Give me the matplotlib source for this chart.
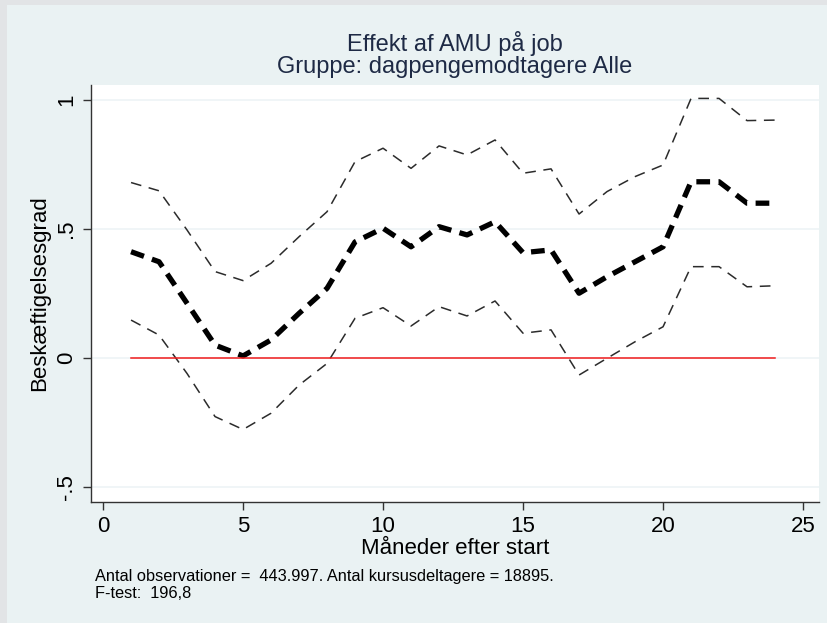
import matplotlib.pyplot as plt
from matplotlib.patches import Rectangle

# Stata-like look
plt.rcParams['font.family'] = ['Liberation Sans', 'DejaVu Sans']

COLOR_BORDER = "#e2e4e6"
COLOR_PANEL = "#eaf2f3"
COLOR_GRID = "#eef4f6"
COLOR_TITLE = "#1e2a45"

months = list(range(1, 25))
effect = [0.412, 0.373, 0.212, 0.050, 0.008, 0.070, 0.173, 0.270, 0.450, 0.503,
          0.431, 0.509, 0.477, 0.528, 0.408, 0.419, 0.251, 0.315, 0.373, 0.431,
          0.683, 0.683, 0.600, 0.600]
upper = [0.680, 0.648, 0.496, 0.335, 0.300, 0.367, 0.470, 0.567, 0.761, 0.813,
         0.735, 0.822, 0.787, 0.845, 0.716, 0.733, 0.558, 0.645, 0.703, 0.748,
         1.006, 1.006, 0.920, 0.922]
lower = [0.147, 0.089, -0.060, -0.227, -0.277, -0.214, -0.105, -0.021, 0.154, 0.195,
         0.124, 0.199, 0.163, 0.221, 0.096, 0.109, -0.066, -0.001, 0.063, 0.121,
         0.354, 0.354, 0.276, 0.280]

y_ticks = [-0.5, 0, 0.5, 1]
y_ticklabels = ['-.5', '0', '.5', '1']
x_ticks = [0, 5, 10, 15, 20, 25]

fig = plt.figure(figsize=(8.28, 6.23), dpi=100)
fig.patch.set_facecolor(COLOR_BORDER)
fig.patches.append(Rectangle((7 / 828, 0), 1, 1 - 5 / 623, transform=fig.transFigure,
                             facecolor=COLOR_PANEL, edgecolor='none', zorder=-10))

ax = fig.add_axes([91 / 828, 1 - 502 / 623, (819 - 91) / 828, (502 - 85) / 623])
ax.set_facecolor('white')

for yv in y_ticks:
    ax.axhline(yv, color=COLOR_GRID, linewidth=1.2, zorder=0)

ax.plot(months, upper, color='#2b2b2b', linewidth=1.1, dashes=(7, 5))
ax.plot(months, lower, color='#2b2b2b', linewidth=1.1, dashes=(7, 5))
ax.plot(months, effect, color='black', linewidth=3.8, dashes=(2.6, 1.6))
ax.plot([months[0], months[-1]], [0, 0], color='#f01c1c', linewidth=1.1)

ax.set_xlim(-0.43, 25.57)
ax.set_ylim(-0.558, 1.058)
ax.set_xticks(x_ticks)
ax.set_yticks(y_ticks, y_ticklabels)
for lbl in ax.get_yticklabels():
    lbl.set_rotation(90)
    lbl.set_va('center')

for side in ['top', 'right']:
    ax.spines[side].set_visible(False)
for side in ['left', 'bottom']:
    ax.spines[side].set_color('#333333')
    ax.spines[side].set_linewidth(1.0)
ax.tick_params(direction='out', length=6, width=1, color='#333333',
               labelsize=16, labelcolor='black', pad=4)

ax.set_ylabel('Beskæftigelsesgrad', fontsize=16, labelpad=4)

fig.text(455 / 828, 1 - 549 / 623, 'Måneder efter start', ha='center', va='center',
         fontsize=16, color='black')

fig.text(455 / 828, 1 - 43 / 623, 'Effekt af AMU på job', ha='center', va='center',
         fontsize=17, color=COLOR_TITLE)
fig.text(455 / 828, 1 - 67 / 623, 'Gruppe: dagpengemodtagere Alle', ha='center', va='center',
         fontsize=17, color=COLOR_TITLE)

fig.text(95 / 828, 1 - 577 / 623, 'Antal observationer =  443.997. Antal kursusdeltagere = 18895.',
         ha='left', va='center', fontsize=11.8, color='black')
fig.text(95 / 828, 1 - 594 / 623, 'F-test:  196,8', ha='left', va='center', fontsize=11.8,
         color='black')

plt.savefig('out.png', dpi=100, facecolor=fig.get_facecolor())
